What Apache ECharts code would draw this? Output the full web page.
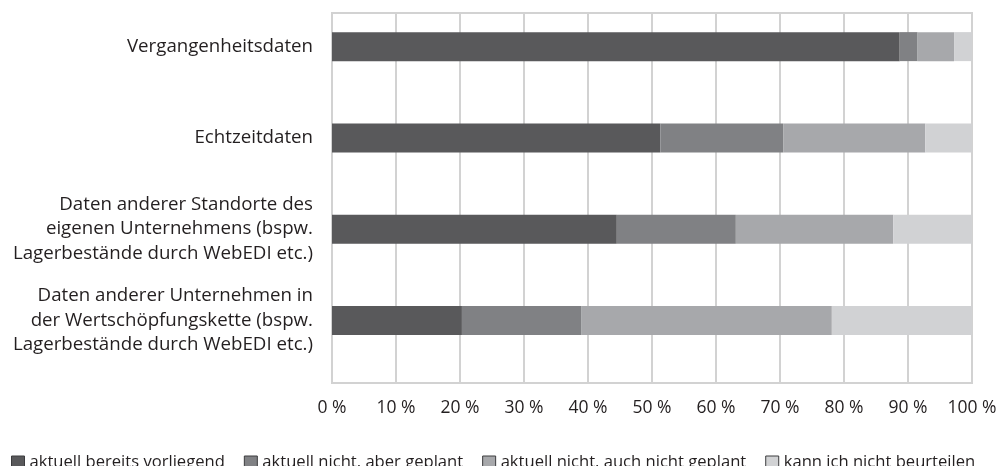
<!DOCTYPE html>
<html>
<head>
<meta charset="utf-8">
<script src="https://cdn.jsdelivr.net/npm/echarts@6/dist/echarts.min.js"></script>
<style>
html,body{margin:0;padding:0;background:#fff;}
#c{width:1000px;height:466px;}
</style>
</head>
<body>
<div id="c"></div>
<script>
var categories = [
  "Vergangenheitsdaten",
  "Echtzeitdaten",
  "Daten anderer Standorte des\neigenen Unternehmens (bspw.\nLagerbestände durch WebEDI etc.)",
  "Daten anderer Unternehmen in\nder Wertschöpfungskette (bspw.\nLagerbestände durch WebEDI etc.)"
];
var seriesNames = [
  "aktuell bereits vorliegend",
  "aktuell nicht, aber geplant",
  "aktuell nicht, auch nicht geplant",
  "kann ich nicht beurteilen"
];
var vorliegend = [88.7, 51.3, 44.5, 20.3];
var geplant = [2.8, 19.2, 18.6, 18.7];
var nichtGeplant = [5.7, 22.2, 24.6, 39.1];
var nichtBeurteilen = [2.8, 7.3, 12.3, 21.9];
var xTicks = [0, 10, 20, 30, 40, 50, 60, 70, 80, 90, 100];

var colors = ['#59595b', '#808184', '#a7a8ab', '#d1d2d4'];
var values = [vorliegend, geplant, nichtGeplant, nichtBeurteilen];
var fontFam = '"Open Sans", "Noto Sans", sans-serif';
var textColor = '#231f20';

var chart = echarts.init(document.getElementById('c'), null, {renderer: 'canvas'});
var series = seriesNames.map(function (n, i) {
  return {
    name: n,
    type: 'bar',
    stack: 'total',
    xAxisIndex: 0,
    yAxisIndex: 0,
    barWidth: 29,
    data: values[i],
    itemStyle: {color: colors[i]},
    emphasis: {disabled: true}
  };
});
chart.setOption({
  animation: false,
  backgroundColor: '#ffffff',
  textStyle: {fontFamily: fontFam},
  legend: {
    left: 6,
    top: 449,
    itemWidth: 13,
    itemHeight: 13,
    itemGap: 19,
    icon: 'rect',
    data: seriesNames,
    itemStyle: {borderColor: '#3c3c3e', borderWidth: 1},
    textStyle: {fontFamily: fontFam, fontSize: 16.6, color: textColor}
  },
  grid: [
    {left: 332, width: 640, top: 1, height: 365, show: false},
    {left: 332, width: 640, top: 13, height: 370, show: true, borderColor: '#d2d2d2', borderWidth: 2, backgroundColor: 'transparent'}
  ],
  xAxis: [
    {gridIndex: 0, type: 'value', min: 0, max: 100, show: false},
    {
      gridIndex: 1, type: 'value', min: 0, max: 100, interval: 10,
      axisLine: {show: false}, axisTick: {show: false},
      splitLine: {show: true, lineStyle: {color: '#d2d2d2', width: 2}},
      axisLabel: {
        margin: 16,
        fontFamily: fontFam, fontSize: 17.5, color: textColor,
        formatter: function (v) { return v + ' %'; }
      }
    }
  ],
  yAxis: [
    {
      gridIndex: 0, type: 'category', inverse: true, data: categories,
      axisLine: {show: false}, axisTick: {show: false}, splitLine: {show: false},
      axisLabel: {
        margin: 19, fontFamily: fontFam, fontSize: 18.7, lineHeight: 24.5,
        color: textColor, align: 'right'
      }
    },
    {gridIndex: 1, type: 'value', show: false, min: 0, max: 1}
  ],
  series: series
});
</script>
</body>
</html>
